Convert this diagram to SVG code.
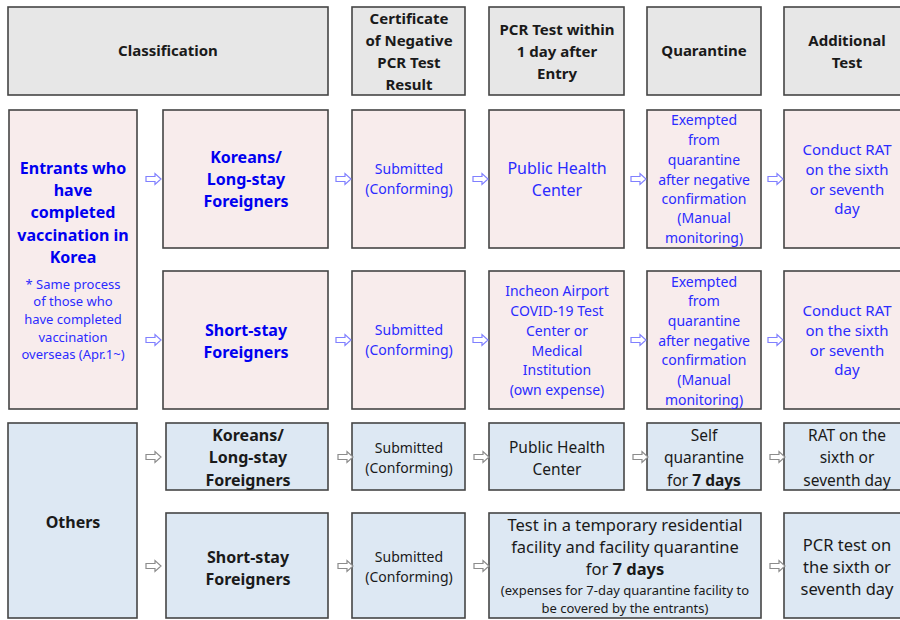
<svg xmlns="http://www.w3.org/2000/svg" width="900" height="620" viewBox="0 0 900 620">
<defs>
<style>
.b{stroke:#454545;stroke-width:1.6}
.h{fill:#e7e7e7}
.p{fill:#f8ecec}
.u{fill:#dde8f3}
text{font-family:"Noto Sans","Open Sans","DejaVu Sans",sans-serif;text-anchor:middle}
.hd{font-weight:bold;font-size:15px;fill:#1a1a1a}
.bb{font-weight:bold;font-size:16px;fill:#0000f0}
.rb{font-size:14px;fill:#2b2bff}
.rc{font-size:15px;fill:#2b2bff}
.rs{font-size:13px;fill:#2b2bff}
.kb{font-weight:bold;font-size:16px;fill:#1a1a1a}
.kr{font-size:15.5px;fill:#1a1a1a}
.kl{font-size:16.5px;fill:#1a1a1a}
.ks{font-size:13px;fill:#1a1a1a}
.ap{fill:#fff;stroke:#8080ff;stroke-width:1.2}
.ag{fill:#fff;stroke:#8c8c8c;stroke-width:1.2}
</style>
<path id="ar" d="M0,-2.5 H9 V-5.5 L15,0 L9,5.5 V2.5 H0 Z"/>
</defs>

<g id="header">
<g id="h-class"><rect class="b h" x="8" y="7" width="320" height="88"/><text class="hd" x="168" y="56">Classification</text></g>
<g id="h-cert"><rect class="b h" x="352" y="7" width="113" height="88"/>
<text class="hd" x="409" y="24">Certificate</text><text class="hd" x="409" y="46">of Negative</text><text class="hd" x="409" y="68">PCR Test</text><text class="hd" x="409" y="90">Result</text></g>
<g id="h-pcr"><rect class="b h" x="489" y="7" width="135" height="88"/>
<text class="hd" x="557" y="35">PCR Test within</text><text class="hd" x="557" y="57">1 day after</text><text class="hd" x="557" y="79">Entry</text></g>
<g id="h-quar"><rect class="b h" x="647" y="7" width="114" height="88"/><text class="hd" x="704" y="56">Quarantine</text></g>
<g id="h-add"><rect class="b h" x="784" y="7" width="126" height="88"/>
<text class="hd" x="847" y="46">Additional</text><text class="hd" x="847" y="68">Test</text></g>
</g>

<g id="vaccinated">
<g id="v-entrants"><rect class="b p" x="9" y="110" width="128" height="299"/>
<text class="bb" x="73" y="174">Entrants who</text><text class="bb" x="73" y="196">have</text><text class="bb" x="73" y="218">completed</text><text class="bb" x="73" y="241">vaccination in</text><text class="bb" x="73" y="263">Korea</text>
<text class="rs" x="73" y="289">* Same process</text><text class="rs" x="73" y="306">of those who</text><text class="rs" x="73" y="324">have completed</text><text class="rs" x="73" y="342">vaccination</text><text class="rs" x="73" y="359">overseas (Apr.1~)</text></g>

<g id="v1-type"><rect class="b p" x="163" y="110" width="165" height="138"/>
<text class="bb" x="246" y="163">Koreans/</text><text class="bb" x="246" y="185">Long-stay</text><text class="bb" x="246" y="207">Foreigners</text></g>
<g id="v1-cert"><rect class="b p" x="352" y="110" width="113" height="138"/>
<text class="rb" x="409" y="174">Submitted</text><text class="rb" x="409" y="194">(Conforming)</text></g>
<g id="v1-pcr"><rect class="b p" x="489" y="110" width="135" height="138"/>
<text class="rb" x="557" y="174" style="font-size:16px">Public  Health</text><text class="rb" x="557" y="196" style="font-size:16px">Center</text></g>
<g id="v1-quar"><rect class="b p" x="647" y="110" width="114" height="138"/>
<text class="rb" x="704" y="125">Exempted</text><text class="rb" x="704" y="145">from</text><text class="rb" x="704" y="165">quarantine</text><text class="rb" x="704" y="185">after negative</text><text class="rb" x="704" y="204">confirmation</text><text class="rb" x="704" y="223">(Manual</text><text class="rb" x="704" y="243">monitoring)</text></g>
<g id="v1-add"><rect class="b p" x="784" y="110" width="126" height="138"/>
<text class="rc" x="847" y="155">Conduct RAT</text><text class="rc" x="847" y="175">on the sixth</text><text class="rc" x="847" y="195">or seventh</text><text class="rc" x="847" y="214">day</text></g>

<g id="v2-type"><rect class="b p" x="163" y="271" width="165" height="138"/>
<text class="bb" x="246" y="336">Short-stay</text><text class="bb" x="246" y="358">Foreigners</text></g>
<g id="v2-cert"><rect class="b p" x="352" y="271" width="113" height="138"/>
<text class="rb" x="409" y="335">Submitted</text><text class="rb" x="409" y="355">(Conforming)</text></g>
<g id="v2-pcr"><rect class="b p" x="489" y="271" width="135" height="138"/>
<text class="rb" x="557" y="296">Incheon Airport</text><text class="rb" x="557" y="316">COVID-19 Test</text><text class="rb" x="557" y="336">Center or</text><text class="rb" x="557" y="356">Medical</text><text class="rb" x="557" y="375">Institution</text><text class="rb" x="557" y="395">(own expense)</text></g>
<g id="v2-quar"><rect class="b p" x="647" y="271" width="114" height="138"/>
<text class="rb" x="704" y="287">Exempted</text><text class="rb" x="704" y="306">from</text><text class="rb" x="704" y="326">quarantine</text><text class="rb" x="704" y="346">after negative</text><text class="rb" x="704" y="365">confirmation</text><text class="rb" x="704" y="385">(Manual</text><text class="rb" x="704" y="405">monitoring)</text></g>
<g id="v2-add"><rect class="b p" x="784" y="271" width="126" height="138"/>
<text class="rc" x="847" y="316">Conduct RAT</text><text class="rc" x="847" y="336">on the sixth</text><text class="rc" x="847" y="356">or seventh</text><text class="rc" x="847" y="375">day</text></g>
</g>

<g id="others">
<g id="o-others"><rect class="b u" x="8" y="423" width="129" height="195"/>
<text class="kb" x="73" y="528">Others</text></g>
<g id="o1-type"><rect class="b u" x="166" y="423" width="162" height="67"/>
<text class="kb" x="248" y="441">Koreans/</text><text class="kb" x="248" y="463">Long-stay</text><text class="kb" x="248" y="486">Foreigners</text></g>
<g id="o1-cert"><rect class="b u" x="352" y="423" width="113" height="67"/>
<text class="kr" x="409" y="453" style="font-size:14px">Submitted</text><text class="kr" x="409" y="473" style="font-size:14px">(Conforming)</text></g>
<g id="o1-pcr"><rect class="b u" x="489" y="423" width="135" height="67"/>
<text class="kr" x="557" y="453">Public  Health</text><text class="kr" x="557" y="475">Center</text></g>
<g id="o1-quar"><rect class="b u" x="647" y="423" width="114" height="67"/>
<text class="kr" x="704" y="441">Self</text><text class="kr" x="704" y="463">quarantine</text><text class="kr" x="704" y="486">for <tspan font-weight="bold">7 days</tspan></text></g>
<g id="o1-add"><rect class="b u" x="784" y="423" width="126" height="67"/>
<text class="kr" x="847" y="441">RAT on the</text><text class="kr" x="847" y="463">sixth or</text><text class="kr" x="847" y="486">seventh day</text></g>

<g id="o2-type"><rect class="b u" x="166" y="513" width="162" height="105"/>
<text class="kb" x="248" y="563">Short-stay</text><text class="kb" x="248" y="585">Foreigners</text></g>
<g id="o2-cert"><rect class="b u" x="352" y="513" width="113" height="105"/>
<text class="kr" x="409" y="562" style="font-size:14px">Submitted</text><text class="kr" x="409" y="582" style="font-size:14px">(Conforming)</text></g>
<g id="o2-fac"><rect class="b u" x="489" y="513" width="272" height="105"/>
<text class="kl" x="625" y="531">Test in a temporary residential</text><text class="kl" x="625" y="553">facility and facility quarantine</text><text class="kl" x="625" y="575">for <tspan font-weight="bold">7 days</tspan></text>
<text class="ks" x="625" y="595">(expenses for 7-day quarantine facility to</text><text class="ks" x="625" y="613">be covered by the entrants)</text></g>
<g id="o2-add"><rect class="b u" x="784" y="513" width="126" height="105"/>
<text class="kl" x="847" y="551">PCR test on</text><text class="kl" x="847" y="573">the sixth or</text><text class="kl" x="847" y="595">seventh day</text></g>
</g>

<g id="connectors">
<use href="#ar" class="ap" x="146" y="179"/><use href="#ar" class="ap" x="336" y="179"/><use href="#ar" class="ap" x="473" y="179"/><use href="#ar" class="ap" x="631" y="179"/><use href="#ar" class="ap" x="768" y="179"/>
<use href="#ar" class="ap" x="146" y="340"/><use href="#ar" class="ap" x="336" y="340"/><use href="#ar" class="ap" x="473" y="340"/><use href="#ar" class="ap" x="631" y="340"/><use href="#ar" class="ap" x="768" y="340"/>
<use href="#ar" class="ag" x="146" y="457"/><use href="#ar" class="ag" x="338" y="457"/><use href="#ar" class="ag" x="474" y="457"/><use href="#ar" class="ag" x="633" y="457"/><use href="#ar" class="ag" x="770" y="457"/>
<use href="#ar" class="ag" x="146" y="566"/><use href="#ar" class="ag" x="338" y="566"/><use href="#ar" class="ag" x="474" y="566"/><use href="#ar" class="ag" x="770" y="566"/>
</g>
</svg>
